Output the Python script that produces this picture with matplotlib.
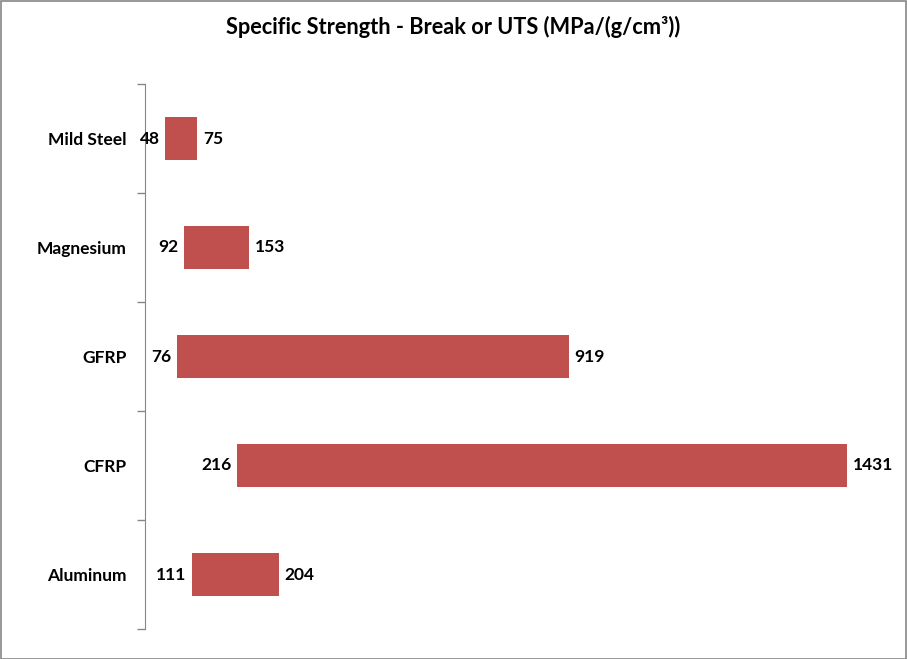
import matplotlib
matplotlib.use("Agg")
import matplotlib.pyplot as plt
from matplotlib.patches import Rectangle

plt.rcParams['font.family'] = ['Lato', 'DejaVu Sans']

materials = ["Mild Steel", "Magnesium", "GFRP", "CFRP", "Aluminum"]
low = [48, 92, 76, 216, 111]
high = [75, 153, 919, 1431, 204]

bar_color = "#C0504D"

fig = plt.figure(figsize=(9.07, 6.59), dpi=100)
ax = fig.add_axes([145 / 907, 30 / 659, 763 / 907, 545 / 659])

ypos = list(range(len(materials)))
# stacked: invisible segment up to low, visible segment of length high
ax.barh(ypos, low, height=0.4, color="none")
ax.barh(ypos, high, left=low, height=0.4, color=bar_color)

for y, lo, hi in zip(ypos, low, high):
    ax.annotate(str(lo), (lo, y), xytext=(-4, 0), textcoords="offset points",
                ha="right", va="center", fontsize=12.5, fontweight="bold")
    ax.annotate(str(hi), (lo + hi, y), xytext=(4, 0), textcoords="offset points",
                ha="left", va="center", fontsize=12.5, fontweight="bold")

ax.set_xlim(0, 1790)
ax.set_ylim(len(materials) - 0.5, -0.5)
ax.set_yticks(ypos)
ax.set_yticklabels(materials, fontsize=12.5, fontweight="bold")
ax.set_yticks([i - 0.5 for i in range(len(materials) + 1)], minor=True)
ax.tick_params(axis="y", which="major", length=0, pad=13)
ax.tick_params(axis="y", which="minor", length=6, color="#868686", width=1)
ax.set_xticks([])
for s in ["top", "right", "bottom"]:
    ax.spines[s].set_visible(False)
ax.spines["left"].set_color("#868686")

fig.text(0.5, 1 - 27 / 659, "Specific Strength - Break or UTS (MPa/(g/cm³))",
         ha="center", va="center", fontsize=15.7, fontweight="bold")

fig.patches.append(Rectangle((0.5 / 907, 0.5 / 659), 1 - 1.5 / 907, 1 - 1.5 / 659,
                             transform=fig.transFigure, fill=False,
                             edgecolor="#868686", linewidth=1.2))

fig.savefig("out.png", dpi=100)
